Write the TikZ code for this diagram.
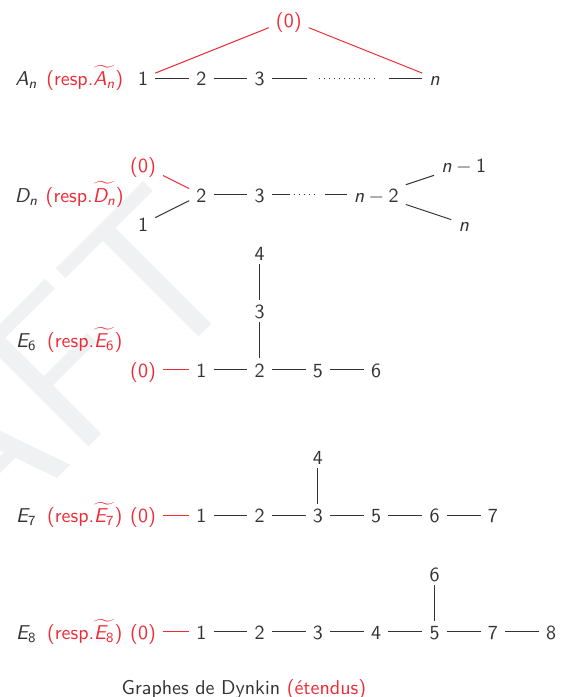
\documentclass[tikz,border=0pt]{standalone}
\usepackage{amsmath}
\usepackage{tikz}
\usetikzlibrary{positioning}
\definecolor{inkgray}{HTML}{333333}
\definecolor{extred}{HTML}{EE2A35}
\definecolor{wmgray}{HTML}{F0F1F3}
\tikzset{
  vertex/.style={text=inkgray,inner xsep=3.4pt,inner ysep=1.6pt,
    text height=0.75em,text depth=0pt},
  extvertex/.style={vertex,text=extred},
  bond/.style={draw=inkgray,line width=0.5pt},
  extbond/.style={bond,draw=extred},
  typelabel/.style={vertex},
  resplabel/.style={vertex,text=extred}
}
\newcommand{\dyn}[1]{\textit{#1}}

\begin{document}
\begin{tikzpicture}[x=29.15pt,y=29.15pt,font=\sffamily]
\path[use as bounding box] (-2.453,1.338) rectangle (7.153,-10.617);

% Background watermark, cut by the page edge.
\node[rotate=45,anchor=base east,inner sep=0pt,text=wmgray,
  font=\sffamily\fontsize{108}{108}\selectfont] (draftmark) at (1.921,-3.482) {DRAFT};

% A_n
\node[typelabel] (aname) at (-2,0) {$\dyn{A}_{\dyn{n}}$};
\node[resplabel] (aresp) at (-1,0) {(resp.$\widetilde{\dyn{A}_{\dyn{n}}}$)};
\node[vertex] (a1) at (0,0) {1};
\node[vertex] (a2) at (1,0) {2};
\node[vertex] (a3) at (2,0) {3};
\node[vertex] (an) at (5,0) {$\dyn{n}$};
\node[extvertex] (a0) at (2.5,1) {(0)};
\coordinate (ap) at (2.81,0);
\coordinate (aq) at (3.02,0);
\coordinate (ar) at (4.01,0);
\coordinate (as) at (4.22,0);
\draw[bond] (a1) -- (a2);
\draw[bond] (a2) -- (a3);
\draw[bond] (a3) -- (ap);
\draw[bond,dotted] (aq) -- (ar);
\draw[bond] (as) -- (an);
\draw[extbond] (a1) -- (a0);
\draw[extbond] (a0) -- (an);

% D_n
\node[typelabel] (dname) at (-2,-2) {$\dyn{D}_{\dyn{n}}$};
\node[resplabel] (dresp) at (-1,-2) {(resp.$\widetilde{\dyn{D}_{\dyn{n}}}$)};
\node[extvertex] (d0) at (0,-1.5) {(0)};
\node[vertex] (d1) at (0,-2.5) {1};
\node[vertex] (d2) at (1,-2) {2};
\node[vertex] (d3) at (2,-2) {3};
\node[vertex] (dm2) at (4,-2) {$\dyn{n}-\text{2}$};
\node[vertex] (dm1) at (5.5,-1.5) {$\dyn{n}-\text{1}$};
\node[vertex] (dn) at (5.5,-2.5) {$\dyn{n}$};
\coordinate (dp) at (2.52,-2);
\coordinate (dq) at (2.59,-2);
\coordinate (dr) at (3.0,-2);
\coordinate (ds) at (3.12,-2);
\draw[extbond] (d0) -- (d2);
\draw[bond] (d1) -- (d2);
\draw[bond] (d2) -- (d3);
\draw[bond] (d3) -- (dp);
\draw[bond,dotted] (dq) -- (dr);
\draw[bond] (ds) -- (dm2);
\draw[bond] (dm2) -- (dm1);
\draw[bond] (dm2) -- (dn);

% E_6
\node[typelabel] (ename) at (-2,-4.5) {$\dyn{E}_{\text{6}}$};
\node[resplabel] (eresp) at (-1,-4.5) {(resp.$\widetilde{\dyn{E}_{\text{6}}}$)};
\node[extvertex] (e0) at (0,-5) {(0)};
\node[vertex] (e1) at (1,-5) {1};
\node[vertex] (e2) at (2,-5) {2};
\node[vertex] (e5) at (3,-5) {5};
\node[vertex] (e6) at (4,-5) {6};
\node[vertex] (e3) at (2,-4) {3};
\node[vertex] (e4) at (2,-3) {4};
\draw[extbond] (e0) -- (e1);
\draw[bond] (e1) -- (e2);
\draw[bond] (e2) -- (e5);
\draw[bond] (e5) -- (e6);
\draw[bond] (e2) -- (e3);
\draw[bond] (e3) -- (e4);

% E_7
\node[typelabel] (fname) at (-2,-7.5) {$\dyn{E}_{\text{7}}$};
\node[resplabel] (fresp) at (-1,-7.5) {(resp.$\widetilde{\dyn{E}_{\text{7}}}$)};
\node[extvertex] (f0) at (0,-7.5) {(0)};
\node[vertex] (f1) at (1,-7.5) {1};
\node[vertex] (f2) at (2,-7.5) {2};
\node[vertex] (f3) at (3,-7.5) {3};
\node[vertex] (f5) at (4,-7.5) {5};
\node[vertex] (f6) at (5,-7.5) {6};
\node[vertex] (f7) at (6,-7.5) {7};
\node[vertex] (f4) at (3,-6.5) {4};
\draw[extbond] (f0) -- (f1);
\draw[bond] (f1) -- (f2);
\draw[bond] (f2) -- (f3);
\draw[bond] (f3) -- (f5);
\draw[bond] (f5) -- (f6);
\draw[bond] (f6) -- (f7);
\draw[bond] (f3) -- (f4);

% E_8
\node[typelabel] (gname) at (-2,-9.5) {$\dyn{E}_{\text{8}}$};
\node[resplabel] (gresp) at (-1,-9.5) {(resp.$\widetilde{\dyn{E}_{\text{8}}}$)};
\node[extvertex] (g0) at (0,-9.5) {(0)};
\node[vertex] (g1) at (1,-9.5) {1};
\node[vertex] (g2) at (2,-9.5) {2};
\node[vertex] (g3) at (3,-9.5) {3};
\node[vertex] (g4) at (4,-9.5) {4};
\node[vertex] (g5) at (5,-9.5) {5};
\node[vertex] (g7) at (6,-9.5) {7};
\node[vertex] (g8) at (7,-9.5) {8};
\node[vertex] (g6) at (5,-8.5) {6};
\draw[extbond] (g0) -- (g1);
\draw[bond] (g1) -- (g2);
\draw[bond] (g2) -- (g3);
\draw[bond] (g3) -- (g4);
\draw[bond] (g4) -- (g5);
\draw[bond] (g5) -- (g7);
\draw[bond] (g7) -- (g8);
\draw[bond] (g5) -- (g6);

\node[vertex] (caption) at (1.73,-10.45)
  {Graphes de Dynkin \textcolor{extred}{(étendus)}};
\end{tikzpicture}
\end{document}
